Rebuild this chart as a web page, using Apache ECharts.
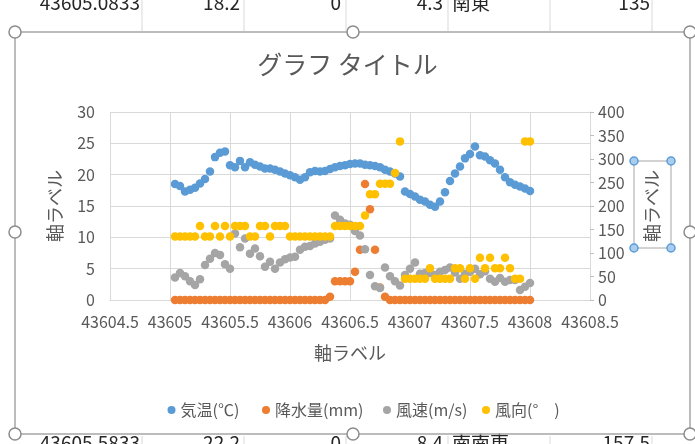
<!DOCTYPE html>
<html><head><meta charset="utf-8">
<script src="https://cdn.jsdelivr.net/npm/echarts@6/dist/echarts.min.js"></script>
<style>html,body{margin:0;padding:0;background:#fff}#c{width:695px;height:444px}</style>
</head><body><div id="c"></div>
<script>
const chartTitle = 'グラフ タイトル';
const axisTitle = '軸ラベル';
const seriesNames = ['気温(℃)', '降水量(mm)', '風速(m/s)', '風向(°\u3000)'];
const seriesColors = ['#5B9BD5', '#ED7D31', '#A5A5A5', '#FFC000'];

const times = [
 43605.0417,43605.0833,43605.125,43605.1667,43605.2083,43605.25,43605.2917,43605.3333,43605.375,43605.4167,43605.4583,43605.5,
 43605.5417,43605.5833,43605.625,43605.6667,43605.7083,43605.75,43605.7917,43605.8333,43605.875,43605.9167,43605.9583,43606,
 43606.0417,43606.0833,43606.125,43606.1667,43606.2083,43606.25,43606.2917,43606.3333,43606.375,43606.4167,43606.4583,43606.5,
 43606.5417,43606.5833,43606.625,43606.6667,43606.7083,43606.75,43606.7917,43606.8333,43606.875,43606.9167,43606.9583,43607,
 43607.0417,43607.0833,43607.125,43607.1667,43607.2083,43607.25,43607.2917,43607.3333,43607.375,43607.4167,43607.4583,43607.5,
 43607.5417,43607.5833,43607.625,43607.6667,43607.7083,43607.75,43607.7917,43607.8333,43607.875,43607.9167,43607.9583,43608
];
const temperature = [
 18.5,18.2,17.3,17.6,17.9,18.6,19.3,20.5,22.8,23.5,23.7,21.5,
 21.2,22.2,21.2,22.0,21.6,21.3,21.0,21.0,20.8,20.5,20.2,19.9,
 19.6,19.2,19.6,20.4,20.6,20.5,20.6,20.9,21.2,21.4,21.5,21.7,
 21.8,21.8,21.6,21.5,21.4,21.2,20.8,20.5,20.2,19.7,17.3,16.9,
 16.5,16.0,15.7,15.2,14.9,15.7,17.2,19.0,20.2,21.3,22.6,23.3,
 24.5,23.1,22.9,22.3,21.8,20.8,19.6,18.8,18.4,18.1,17.8,17.4
];
const precipitation = [
 0,0,0,0,0,0,0,0,0,0,0,0,
 0,0,0,0,0,0,0,0,0,0,0,0,
 0,0,0,0,0,0,0,0.5,3.0,3.0,3.0,3.0,
 4.5,8.0,18.5,14.5,8.0,2.0,0.5,0,0,0,0,0,
 0,0,0,0,0,0,0,0,0,0,0,0,
 0,0,0,0,0,0,0,0,0,0,0,0
];
const windSpeed = [
 3.6,4.3,3.8,3.0,2.4,3.3,5.6,6.6,7.5,7.2,5.7,5.0,
 10.6,8.4,9.8,7.4,8.2,7.0,5.3,6.1,5.0,6.0,6.5,6.8,
 6.9,8.0,8.5,8.6,9.0,9.3,9.6,9.8,13.5,12.8,12.2,12.0,
 11.0,10.3,8.1,4.0,2.2,1.9,5.2,3.8,3.0,2.3,4.0,5.0,
 6.0,4.2,4.3,4.3,4.0,4.5,4.8,5.2,4.4,3.4,4.2,4.5,
 5.0,4.1,4.6,3.4,2.9,3.5,2.9,3.2,3.2,1.6,2.1,2.7
];
const windDirection = [
 135,135,135,135,135,157.5,135,135,157.5,135,157.5,135,
 157.5,157.5,157.5,135,135,157.5,157.5,135,157.5,157.5,157.5,135,
 135,135,135,135,135,135,135,135,157.5,157.5,157.5,157.5,
 157.5,157.5,180,225,225,247.5,247.5,247.5,270,337.5,45,45,
 45,45,45,67.5,45,45,45,45,67.5,67.5,45,67.5,
 45,90,67.5,90,67.5,67.5,90,67.5,45,45,337.5,337.5
];
const xMin = 43604.5, xMax = 43608.5, xStep = 0.5;
const y1Min = 0, y1Max = 30, y1Step = 5;
const y2Min = 0, y2Max = 400, y2Step = 50;

const topCells = ['43605.0833','18.2','0','4.3','南東','135'];
const bottomCells = ['43605.5833','22.2','0','8.4','南南東','157.5'];

const FONT = '"Noto Sans CJK JP", "Noto Sans", sans-serif';
const TXT = '#595959';

function pairs(ys){ return times.map((t,i)=>[t, ys[i]]); }
const allSeries = [temperature, precipitation, windSpeed, windDirection];

const chart = echarts.init(document.getElementById('c'), null, {renderer:'canvas'});

const legendLefts = [162.5, 257, 378, 477];
const legends = seriesNames.map((n,i)=>({
  data:[n], left: legendLefts[i], top: 397, icon:'circle', itemWidth:8, itemHeight:8,
  textStyle:{color:TXT, fontSize:16, fontFamily:FONT}, selectedMode:false
}));

// decoration: sheet cells and selection frame
const cellRightX = [140, 240, 341, 443, null, 650];
const cellLines = [142, 244, 346, 448, 550, 652];
const g = [];
cellLines.forEach(x=>{
  g.push({type:'line', shape:{x1:x,y1:0,x2:x,y2:31}, style:{stroke:'#d9d9d9', lineWidth:1}, z:1});
  g.push({type:'line', shape:{x1:x,y1:436,x2:x,y2:444}, style:{stroke:'#d9d9d9', lineWidth:1}, z:1});
});
function cellTexts(arr, y, va){
  arr.forEach((t,i)=>{
    if (cellRightX[i] === null) {
      g.push({type:'text', x:452, y:y, style:{text:t, font:'19px '+FONT, fill:'#262626', align:'left', verticalAlign:va}, z:1});
    } else {
      g.push({type:'text', x:cellRightX[i], y:y, style:{text:t, font:'19px '+FONT, fill:'#262626', align:'right', verticalAlign:va}, z:1});
    }
  });
}
cellTexts(topCells, 12, 'bottom');
cellTexts(bottomCells, 433, 'top');
g.push({type:'rect', shape:{x:15,y:32,width:675,height:402}, style:{fill:'none', stroke:'#a6a6a6', lineWidth:1.5}, z:50});
[[15,32],[353,32],[690,32],[15,232],[690,232],[15,434],[353,434],[690,434]].forEach(p=>{
  g.push({type:'circle', shape:{cx:p[0], cy:p[1], r:6}, style:{fill:'#fff', stroke:'#8c8c8c', lineWidth:1.5}, z:51});
});
// secondary axis title selection box
g.push({type:'rect', shape:{x:634,y:161,width:37,height:87}, style:{fill:'none', stroke:'#a6a6a6', lineWidth:1}, z:52});
[[634,161],[671,161],[634,248],[671,248]].forEach(p=>{
  g.push({type:'circle', shape:{cx:p[0], cy:p[1], r:4}, style:{fill:'#a9cdef', stroke:'#5b9bd5', lineWidth:1.5}, z:53});
});

const option = {
  animation:false,
  backgroundColor:'#fff',
  textStyle:{fontFamily:FONT},
  title:{text:chartTitle, left:'center', top:47, textStyle:{color:TXT, fontSize:25, fontWeight:'normal', fontFamily:FONT}},
  legend: legends,
  grid:{left:110, right:105, top:112, bottom:144, containLabel:false},
  xAxis:{
    type:'value', min:xMin, max:xMax, interval:xStep,
    name:axisTitle, nameLocation:'middle', nameGap:44,
    nameTextStyle:{color:TXT, fontSize:18, fontFamily:FONT},
    axisLine:{show:true, lineStyle:{color:'#d9d9d9'}},
    axisTick:{show:false},
    splitLine:{show:true, lineStyle:{color:'#d9d9d9'}},
    axisLabel:{color:TXT, fontSize:16, margin:14, formatter:v=>String(v)}
  },
  yAxis:[{
    type:'value', min:y1Min, max:y1Max, interval:y1Step, position:'left',
    name:axisTitle, nameLocation:'middle', nameGap:46, nameRotate:90,
    nameTextStyle:{color:TXT, fontSize:18, fontFamily:FONT},
    axisLine:{show:false}, axisTick:{show:false},
    splitLine:{show:true, lineStyle:{color:'#d9d9d9'}},
    axisLabel:{color:TXT, fontSize:16, margin:15}
  },{
    type:'value', min:y2Min, max:y2Max, interval:y2Step, position:'right',
    name:axisTitle, nameLocation:'middle', nameGap:53, nameRotate:90,
    nameTextStyle:{color:TXT, fontSize:18, fontFamily:FONT},
    axisLine:{show:true, lineStyle:{color:'#d9d9d9'}},
    axisTick:{show:true, length:4, lineStyle:{color:'#bfbfbf'}},
    splitLine:{show:false},
    axisLabel:{color:TXT, fontSize:16, margin:8}
  }],
  series: allSeries.map((ys,i)=>({
    name:seriesNames[i], type:'scatter', yAxisIndex: i===3?1:0,
    data:pairs(ys), symbol:'circle', symbolSize:8.5,
    itemStyle:{color:seriesColors[i], opacity:1},
    emphasis:{disabled:true}
  })),
  graphic: g
};
chart.setOption(option);
</script></body></html>
